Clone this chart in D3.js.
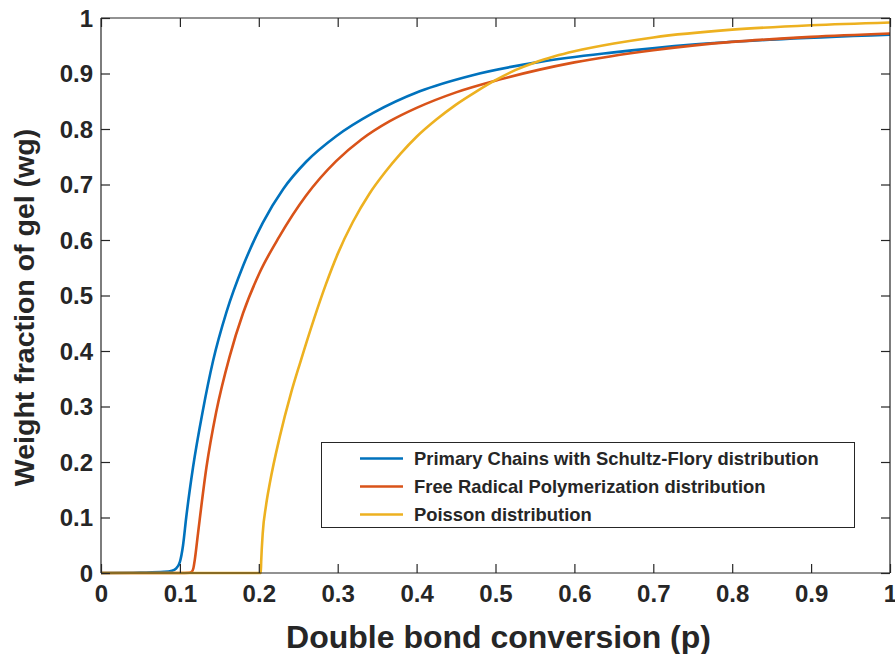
<!DOCTYPE html>
<html>
<head>
<meta charset="utf-8">
<script src="https://cdn.jsdelivr.net/npm/d3@7"></script>
<style>
  html, body { margin: 0; padding: 0; background: #fff; }
  svg { display: block; }
  text { font-family: "Liberation Sans", Arial, Helvetica, sans-serif; font-weight: bold; fill: #262626; }
</style>
</head>
<body>
<svg id="chart" width="895" height="654"></svg>
<script>
// Gel weight fraction vs. double bond conversion for three primary chain distributions
const xTicks = [0, 0.1, 0.2, 0.3, 0.4, 0.5, 0.6, 0.7, 0.8, 0.9, 1];
const yTicks = [0, 0.1, 0.2, 0.3, 0.4, 0.5, 0.6, 0.7, 0.8, 0.9, 1];
const xTickLabels = ["0", "0.1", "0.2", "0.3", "0.4", "0.5", "0.6", "0.7", "0.8", "0.9", "1"];
const yTickLabels = ["0", "0.1", "0.2", "0.3", "0.4", "0.5", "0.6", "0.7", "0.8", "0.9", "1"];

const seriesNames = [
  "Primary Chains with Schultz-Flory distribution",
  "Free Radical Polymerization distribution",
  "Poisson distribution"
];
const seriesColors = ["#0072BD", "#D95319", "#EDB120"];

// conversion p and gel fraction wg, Schultz-Flory primary chains
const schultzP  = [0, 0.05, 0.08, 0.09, 0.095, 0.1, 0.104, 0.108, 0.1166, 0.129, 0.142, 0.159, 0.18, 0.205, 0.231, 0.26, 0.298, 0.345, 0.404, 0.471, 0.556, 0.65, 0.75, 0.85, 1.0];
const schultzWg = [0, 0.0008, 0.002, 0.004, 0.008, 0.02, 0.05, 0.10, 0.19, 0.292, 0.382, 0.47, 0.553, 0.631, 0.692, 0.741, 0.787, 0.829, 0.868, 0.897, 0.921, 0.938, 0.952, 0.961, 0.970];

// Free radical polymerization primary chains
const radicalP  = [0, 0.1, 0.112, 0.115, 0.117, 0.119, 0.123, 0.1336, 0.146, 0.163, 0.18, 0.201, 0.226, 0.26, 0.298, 0.33, 0.366, 0.40, 0.45, 0.505, 0.556, 0.6, 0.7, 0.8, 0.9, 1.0];
const radicalWg = [0, 0, 0.0005, 0.002, 0.008, 0.025, 0.072, 0.19, 0.29, 0.39, 0.468, 0.541, 0.606, 0.68, 0.742, 0.781, 0.814, 0.838, 0.866, 0.889, 0.907, 0.920, 0.942, 0.957, 0.966, 0.972];

// Poisson primary chains
const poissonP  = [0, 0.1, 0.2025, 0.203, 0.205, 0.209, 0.214, 0.2265, 0.241, 0.252, 0.27, 0.285, 0.3, 0.319, 0.34, 0.36, 0.38, 0.4, 0.425, 0.45, 0.475, 0.5, 0.525, 0.55, 0.575, 0.6, 0.65, 0.7, 0.8, 0.9, 1.0];
const poissonWg = [0, 0, 0, 0.02, 0.072, 0.12, 0.162, 0.245, 0.325, 0.377, 0.458, 0.52, 0.575, 0.632, 0.683, 0.722, 0.756, 0.786, 0.817, 0.844, 0.867, 0.888, 0.906, 0.920, 0.931, 0.940, 0.954, 0.965, 0.979, 0.987, 0.992];

const margin = { left: 101, right: 5, top: 18, bottom: 81 };
const W = 895, H = 654;
const svg = d3.select("#chart");

const x = d3.scaleLinear().domain([0, 1]).range([margin.left, W - margin.right]);
const y = d3.scaleLinear().domain([0, 1]).range([H - margin.bottom, margin.top]);

const tickLen = 9;
const axisColor = "#262626";

// curves
const series = [
  { p: schultzP, wg: schultzWg },
  { p: radicalP, wg: radicalWg },
  { p: poissonP, wg: poissonWg }
];
const line = d3.line().x(d => x(d[0])).y(d => y(d[1])).curve(d3.curveMonotoneX);

svg.append("defs").append("clipPath").attr("id", "plotClip")
  .append("rect")
  .attr("x", x(0) - 2).attr("y", y(1) - 3)
  .attr("width", x(1) - x(0) + 4).attr("height", y(0) - y(1) + 6);

const curves = svg.append("g").attr("clip-path", "url(#plotClip)");
series.forEach((s, i) => {
  curves.append("path")
    .datum(s.p.map((p, k) => [p, s.wg[k]]))
    .attr("d", line)
    .attr("fill", "none")
    .attr("stroke", seriesColors[i])
    .attr("stroke-width", 2.6)
    .attr("stroke-linejoin", "round");
});

// box axes with inward ticks on all four sides
const bottomAxis = d3.axisBottom(x).tickValues(xTicks).tickSize(-tickLen).tickFormat((d, i) => xTickLabels[i]);
const topAxis = d3.axisTop(x).tickValues(xTicks).tickSize(-tickLen).tickFormat("");
const leftAxis = d3.axisLeft(y).tickValues(yTicks).tickSize(-tickLen).tickFormat((d, i) => yTickLabels[i]);
const rightAxis = d3.axisRight(y).tickValues(yTicks).tickSize(-tickLen).tickFormat("");

function styleAxis(g) {
  g.select(".domain").attr("stroke", axisColor).attr("stroke-width", 1.2);
  g.selectAll(".tick line").attr("stroke", axisColor).attr("stroke-width", 1.2);
}

const gB = svg.append("g").attr("transform", `translate(0,${y(0)})`).call(bottomAxis).call(styleAxis);
gB.selectAll(".domain").attr("d", `M${x(0)},0H${x(1)}`);
gB.selectAll(".tick text").attr("y", 12).attr("dy", "0.71em")
  .style("font-size", "24px").style("font-family", "Liberation Sans, Arial, sans-serif").style("font-weight", "bold").attr("fill", axisColor);

const gT = svg.append("g").attr("transform", `translate(0,${y(1)})`).call(topAxis).call(styleAxis);
gT.selectAll(".domain").attr("d", `M${x(0)},0H${x(1)}`);

const gL = svg.append("g").attr("transform", `translate(${x(0)},0)`).call(leftAxis).call(styleAxis);
gL.selectAll(".domain").attr("d", `M0,${y(0)}V${y(1)}`);
gL.selectAll(".tick text").attr("x", -8).attr("dy", "0.35em")
  .style("font-size", "24px").style("font-family", "Liberation Sans, Arial, sans-serif").style("font-weight", "bold").attr("fill", axisColor);

const gR = svg.append("g").attr("transform", `translate(${x(1)},0)`).call(rightAxis).call(styleAxis);
gR.selectAll(".domain").attr("d", `M0,${y(0)}V${y(1)}`);

// axis titles
svg.append("text")
  .attr("x", (x(0) + x(1)) / 2 + 3).attr("y", 648)
  .attr("text-anchor", "middle")
  .style("font-size", "32px")
  .text("Double bond conversion (p)");

svg.append("text")
  .attr("transform", `translate(34,${(y(0) + y(1)) / 2 + 12}) rotate(-90)`)
  .attr("text-anchor", "middle")
  .style("font-size", "28.5px")
  .text("Weight fraction of gel (wg)");

// legend
const legend = svg.append("g");
legend.append("rect")
  .attr("x", 321.5).attr("y", 442.5).attr("width", 533).attr("height", 85)
  .attr("fill", "#fff").attr("stroke", axisColor).attr("stroke-width", 1);
const rowY = [458.5, 486.5, 514.5];
seriesNames.forEach((name, i) => {
  legend.append("line")
    .attr("x1", 360).attr("x2", 403).attr("y1", rowY[i]).attr("y2", rowY[i])
    .attr("stroke", seriesColors[i]).attr("stroke-width", 2.6);
  legend.append("text")
    .attr("x", 414).attr("y", rowY[i]).attr("dy", "0.35em")
    .style("font-size", "18.4px")
    .text(name);
});
</script>
</body>
</html>
